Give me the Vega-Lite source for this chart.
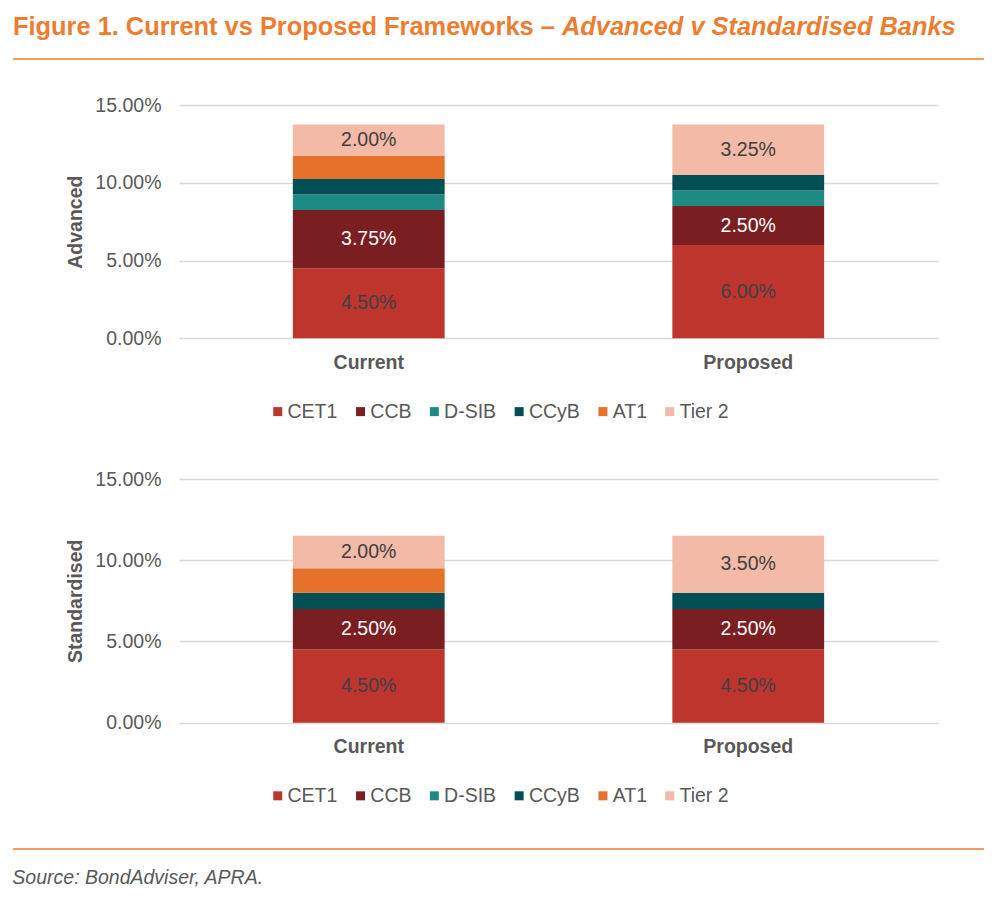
{
  "$schema": "https://vega.github.io/schema/vega-lite/v6.json",
  "padding": {"left": 12, "top": 14, "right": 15, "bottom": 5},
  "config": {
    "font": "Liberation Sans",
    "view": {"stroke": null},
    "axis": {"labelFont": "Liberation Sans", "titleFont": "Liberation Sans"},
    "legend": {"labelFont": "Liberation Sans"},
    "title": {"font": "Liberation Sans"}
  },
  "datasets": {
    "capital": [
      {"bank": "Advanced", "framework": "Current", "component": "CET1", "value": 0.045},
      {"bank": "Advanced", "framework": "Current", "component": "CCB", "value": 0.0375},
      {"bank": "Advanced", "framework": "Current", "component": "D-SIB", "value": 0.01},
      {"bank": "Advanced", "framework": "Current", "component": "CCyB", "value": 0.01},
      {"bank": "Advanced", "framework": "Current", "component": "AT1", "value": 0.015},
      {"bank": "Advanced", "framework": "Current", "component": "Tier 2", "value": 0.02},
      {"bank": "Advanced", "framework": "Proposed", "component": "CET1", "value": 0.06},
      {"bank": "Advanced", "framework": "Proposed", "component": "CCB", "value": 0.025},
      {"bank": "Advanced", "framework": "Proposed", "component": "D-SIB", "value": 0.01},
      {"bank": "Advanced", "framework": "Proposed", "component": "CCyB", "value": 0.01},
      {"bank": "Advanced", "framework": "Proposed", "component": "Tier 2", "value": 0.0325},
      {"bank": "Standardised", "framework": "Current", "component": "CET1", "value": 0.045},
      {"bank": "Standardised", "framework": "Current", "component": "CCB", "value": 0.025},
      {"bank": "Standardised", "framework": "Current", "component": "CCyB", "value": 0.01},
      {"bank": "Standardised", "framework": "Current", "component": "AT1", "value": 0.015},
      {"bank": "Standardised", "framework": "Current", "component": "Tier 2", "value": 0.02},
      {"bank": "Standardised", "framework": "Proposed", "component": "CET1", "value": 0.045},
      {"bank": "Standardised", "framework": "Proposed", "component": "CCB", "value": 0.025},
      {"bank": "Standardised", "framework": "Proposed", "component": "CCyB", "value": 0.01},
      {"bank": "Standardised", "framework": "Proposed", "component": "Tier 2", "value": 0.035}
    ]
  },
  "spacing": 0,
  "resolve": {
    "scale": {"x": "independent", "y": "independent", "color": "independent"},
    "axis": {"x": "independent", "y": "independent"},
    "legend": {"color": "independent"}
  },
  "vconcat": [
    {
      "spacing": 0,
      "hconcat": [
        {
          "width": 1, "height": 18,
          "data": {"values": []},
          "mark": "text",
          "title": {"text": "Figure 1. Current vs Proposed Frameworks –", "anchor": "start", "fontSize": 25.4, "fontWeight": "bold", "color": "#ED7D31", "offset": 0}
        },
        {
          "width": 1, "height": 18,
          "data": {"values": []},
          "mark": "text",
          "title": {"text": "Advanced v Standardised Banks", "anchor": "start", "dx": 7, "fontSize": 25.4, "fontWeight": "bold", "fontStyle": "italic", "color": "#ED7D31", "offset": 0}
        }
      ]
    },
    {
      "width": 971, "height": 35.3,
      "data": {"values": [{}]},
      "mark": {"type": "rule", "color": "#ED7D31", "strokeWidth": 1.3},
      "encoding": {"y": {"datum": 1, "type": "quantitative", "scale": {"domain": [0, 1], "nice": false}, "axis": null}}
    },
    {
      "spacing": 47,
      "resolve": {
        "scale": {"x": "independent", "y": "independent", "color": "independent"},
        "axis": {"x": "independent", "y": "independent"},
        "legend": {"color": "independent"}
      },
      "vconcat": [
        {
          "spacing": 0,
          "resolve": {
            "scale": {"x": "independent", "y": "independent", "color": "independent"},
            "axis": {"x": "independent", "y": "independent"},
            "legend": {"color": "independent"}
          },
          "hconcat": [
            {"width": 52, "height": 1, "data": {"values": []}, "mark": "text"},
            {
              "width": 759, "height": 233.3,
              "data": {"name": "capital"},
              "transform": [
                {"filter": {"field": "bank", "equal": "Advanced"}},
                {"stack": "value", "groupby": ["framework"], "as": ["v0", "v1"]}
              ],
              "encoding": {
                "x": {"field": "framework", "type": "nominal", "sort": ["Current", "Proposed"],
                  "scale": {"paddingInner": 0.6, "paddingOuter": 0.3},
                  "axis": {"title": null, "labelAngle": 0, "domain": false, "ticks": false, "labelFontWeight": "bold", "labelFontSize": 19.5, "labelColor": "#595959", "labelPadding": 15}}
              },
              "layer": [
                {
                  "mark": {"type": "bar"},
                  "encoding": {
                    "y": {"field": "v0", "type": "quantitative", "title": "Advanced",
                      "scale": {"domain": [0, 0.15], "nice": false},
                      "axis": {"values": [0, 0.05, 0.1, 0.15], "format": ".2%", "domain": false, "ticks": false, "grid": true, "gridColor": "#D9D9D9", "gridWidth": 1.5, "labelFontSize": 19.5, "labelColor": "#595959", "labelPadding": 18, "titleFontSize": 19.5, "titleFontWeight": "bold", "titleColor": "#595959", "titlePadding": 9}},
                    "y2": {"field": "v1"},
                    "color": {"field": "component", "type": "nominal",
                      "scale": {"domain": ["CET1", "CCB", "D-SIB", "CCyB", "AT1", "Tier 2"], "range": ["#BE352E", "#7A1E22", "#1E8A84", "#014F55", "#E5712A", "#F2BAA7"]},
                      "legend": {"orient": "none", "legendX": 89, "legendY": 296.5, "direction": "horizontal", "title": null, "symbolType": "square", "symbolSize": 81, "symbolStrokeWidth": 0, "labelFontSize": 19.5, "labelColor": "#595959", "labelOffset": 0, "columnPadding": 12.8}}
                  }
                },
                {
                  "transform": [
                    {"filter": {"field": "component", "oneOf": ["CET1", "CCB", "Tier 2"]}},
                    {"fold": ["v0", "v1"], "as": ["edge", "pos"]},
                    {"aggregate": [{"op": "mean", "field": "pos", "as": "mid"}], "groupby": ["framework", "component", "value"]}
                  ],
                  "mark": {"type": "text", "fontSize": 19.5, "baseline": "middle"},
                  "encoding": {
                    "y": {"field": "mid", "type": "quantitative", "title": "Advanced"},
                    "text": {"field": "value", "type": "quantitative", "format": ".2%"},
                    "color": {"condition": {"test": "datum.component === 'CCB'", "value": "#FFFFFF"}, "value": "#404040"}
                  }
                }
              ]
            }
          ]
        },
        {
          "spacing": 0,
          "resolve": {
            "scale": {"x": "independent", "y": "independent", "color": "independent"},
            "axis": {"x": "independent", "y": "independent"},
            "legend": {"color": "independent"}
          },
          "hconcat": [
            {"width": 52, "height": 1, "data": {"values": []}, "mark": "text"},
            {
              "width": 759, "height": 243.7,
              "data": {"name": "capital"},
              "transform": [
                {"filter": {"field": "bank", "equal": "Standardised"}},
                {"stack": "value", "groupby": ["framework"], "as": ["v0", "v1"]}
              ],
              "encoding": {
                "x": {"field": "framework", "type": "nominal", "sort": ["Current", "Proposed"],
                  "scale": {"paddingInner": 0.6, "paddingOuter": 0.3},
                  "axis": {"title": null, "labelAngle": 0, "domain": false, "ticks": false, "labelFontWeight": "bold", "labelFontSize": 19.5, "labelColor": "#595959", "labelPadding": 15}}
              },
              "layer": [
                {
                  "mark": {"type": "bar"},
                  "encoding": {
                    "y": {"field": "v0", "type": "quantitative", "title": "Standardised",
                      "scale": {"domain": [0, 0.15], "nice": false},
                      "axis": {"values": [0, 0.05, 0.1, 0.15], "format": ".2%", "domain": false, "ticks": false, "grid": true, "gridColor": "#D9D9D9", "gridWidth": 1.5, "labelFontSize": 19.5, "labelColor": "#595959", "labelPadding": 18, "titleFontSize": 19.5, "titleFontWeight": "bold", "titleColor": "#595959", "titlePadding": 9}},
                    "y2": {"field": "v1"},
                    "color": {"field": "component", "type": "nominal",
                      "scale": {"domain": ["CET1", "CCB", "D-SIB", "CCyB", "AT1", "Tier 2"], "range": ["#BE352E", "#7A1E22", "#1E8A84", "#014F55", "#E5712A", "#F2BAA7"]},
                      "legend": {"orient": "none", "legendX": 89, "legendY": 306.7, "direction": "horizontal", "title": null, "symbolType": "square", "symbolSize": 81, "symbolStrokeWidth": 0, "labelFontSize": 19.5, "labelColor": "#595959", "labelOffset": 0, "columnPadding": 12.8}}
                  }
                },
                {
                  "transform": [
                    {"filter": {"field": "component", "oneOf": ["CET1", "CCB", "Tier 2"]}},
                    {"fold": ["v0", "v1"], "as": ["edge", "pos"]},
                    {"aggregate": [{"op": "mean", "field": "pos", "as": "mid"}], "groupby": ["framework", "component", "value"]}
                  ],
                  "mark": {"type": "text", "fontSize": 19.5, "baseline": "middle"},
                  "encoding": {
                    "y": {"field": "mid", "type": "quantitative", "title": "Standardised"},
                    "text": {"field": "value", "type": "quantitative", "format": ".2%"},
                    "color": {"condition": {"test": "datum.component === 'CCB'", "value": "#FFFFFF"}, "value": "#404040"}
                  }
                }
              ]
            }
          ]
        }
      ]
    },
    {
      "width": 971, "height": 43,
      "data": {"values": [{}]},
      "mark": {"type": "rule", "color": "#ED7D31", "strokeWidth": 1.3},
      "encoding": {"y": {"datum": 0, "type": "quantitative", "scale": {"domain": [0, 1], "nice": false}, "axis": null}},
      "title": {"text": "Source: BondAdviser, APRA.", "orient": "bottom", "anchor": "start", "fontSize": 19.5, "fontWeight": "normal", "fontStyle": "italic", "color": "#595959", "offset": 19}
    }
  ]
}
